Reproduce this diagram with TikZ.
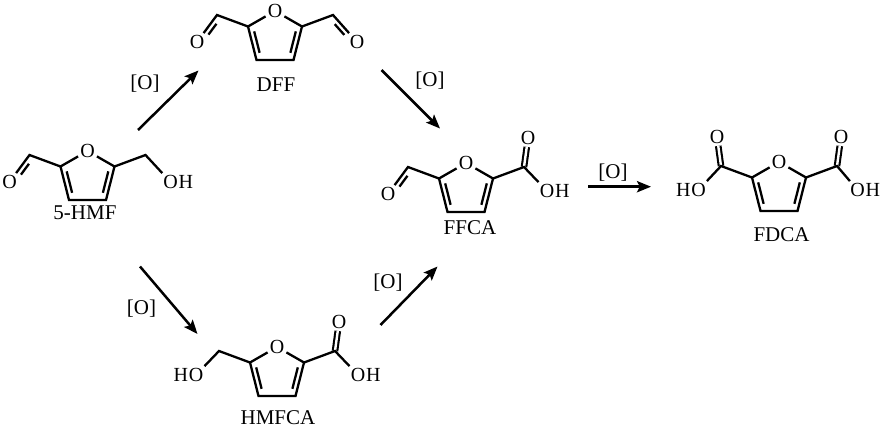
\documentclass[tikz,border=0pt]{standalone}
\usepackage{fontspec}
\setmainfont{Liberation Serif}
\usetikzlibrary{calc,arrows.meta}

\tikzset{
  bond/.style={line width=1.15pt, line cap=butt, line join=miter},
  cobond/.style={line width=1.05pt, double, double distance=1.2pt},
  atom/.style={inner sep=0.9pt, font=\fontsize{10}{12}\selectfont},
  hatom/.style={inner sep=0pt, font=\fontsize{10}{12}\selectfont},
  molname/.style={inner sep=0pt, font=\fontsize{10.5}{12}\selectfont},
  oxlabel/.style={inner sep=0pt, font=\fontsize{10.5}{12}\selectfont},
  rxn/.style={line width=1.25pt, -{Stealth[length=7pt,width=5.6pt,inset=1.4pt]}},
}

\newcommand{\furanring}[3]{%
  \begin{scope}[shift={(#2,#3)}]
    \node[atom] (#1O) at (0,0) {O};
    \coordinate (#1c2) at (-27,15.5);
    \coordinate (#1c3) at (-18.5,49);
    \coordinate (#1c4) at (18.5,49);
    \coordinate (#1c5) at (27,15.5);
  \end{scope}
  \draw[bond] (#1O) -- (#1c2) -- (#1c3) -- (#1c4) -- (#1c5) -- (#1O);
  \draw[bond] ($(#1c2)!0.18!(#1c3)!2.4pt!90:(#1c3)$) -- ($(#1c3)!0.18!(#1c2)!2.4pt!-90:(#1c2)$);
  \draw[bond] ($(#1c4)!0.18!(#1c5)!2.4pt!90:(#1c5)$) -- ($(#1c5)!0.18!(#1c4)!2.4pt!-90:(#1c4)$);
}

\begin{document}
\begin{tikzpicture}[x=0.5pt, y=-0.5pt]
\useasboundingbox (0,0) rectangle (881,428);

% ---------- 5-HMF ----------
\furanring{h}{87.5}{151}
\coordinate (hald) at (29.5,155);
\node[atom] (haldO) at (9.5,182) {O};
\draw[bond] (hc2) -- (hald) -- (haldO);
\draw[bond] ($(hald)!0.22!(haldO)!2.4pt!90:(haldO)$) -- ($(haldO)!0.38!(hald)!2.4pt!-90:(hald)$);
\coordinate (hch) at (145.5,155);
\node[atom] (hohO) at (170.5,182) {O};
\node[hatom, anchor=base west] (hohH) at ([xshift=-0.9pt]hohO.base east) {H};
\draw[bond] (hc5) -- (hch) -- (hohO);
\node[molname] (hname) at (85,213) {5-HMF};

% ---------- DFF ----------
\furanring{d}{275}{11}
\coordinate (dald1) at (217,15);
\node[atom] (dald1O) at (197,42) {O};
\draw[bond] (dc2) -- (dald1) -- (dald1O);
\draw[bond] ($(dald1)!0.22!(dald1O)!2.4pt!90:(dald1O)$) -- ($(dald1O)!0.38!(dald1)!2.4pt!-90:(dald1)$);
\coordinate (dald2) at (333,15);
\node[atom] (dald2O) at (357,42) {O};
\draw[bond] (dc5) -- (dald2) -- (dald2O);
\draw[bond] ($(dald2)!0.22!(dald2O)!2.4pt!-90:(dald2O)$) -- ($(dald2O)!0.38!(dald2)!2.4pt!90:(dald2)$);
\node[molname] (dname) at (276,85) {DFF};

% ---------- FFCA ----------
\furanring{f}{466}{163}
\coordinate (fald) at (408,167);
\node[atom] (faldO) at (388,194) {O};
\draw[bond] (fc2) -- (fald) -- (faldO);
\draw[bond] ($(fald)!0.22!(faldO)!2.4pt!90:(faldO)$) -- ($(faldO)!0.38!(fald)!2.4pt!-90:(fald)$);
\coordinate (fco) at (524,167);
\node[atom] (fcoO) at (528,138) {O};
\node[atom] (fohO) at (547,191) {O};
\node[hatom, anchor=base west] (fohH) at ([xshift=-0.9pt]fohO.base east) {H};
\draw[cobond] (fco) -- (fcoO);
\draw[bond] (fc5) -- (fco) -- (fohO);
\node[molname] (fname) at (470,228) {FFCA};

% ---------- FDCA ----------
\furanring{a}{779}{162}
\coordinate (aco1) at (721,166);
\node[atom] (aco1O) at (717,137) {O};
\node[atom] (aoh1O) at (698.5,190) {O};
\node[hatom, anchor=base east] (aoh1H) at ([xshift=0.9pt]aoh1O.base west) {H};
\draw[cobond] (aco1) -- (aco1O);
\draw[bond] (ac2) -- (aco1) -- (aoh1O);
\coordinate (aco2) at (837,166);
\node[atom] (aco2O) at (841,137) {O};
\node[atom] (aoh2O) at (857.5,190) {O};
\node[hatom, anchor=base west] (aoh2H) at ([xshift=-0.9pt]aoh2O.base east) {H};
\draw[cobond] (aco2) -- (aco2O);
\draw[bond] (ac5) -- (aco2) -- (aoh2O);
\node[molname] (aname) at (781.5,235) {FDCA};

% ---------- HMFCA ----------
\furanring{m}{277}{347}
\coordinate (mch) at (219,351);
\node[atom] (mhoO) at (196,375) {O};
\node[hatom, anchor=base east] (mhoH) at ([xshift=0.9pt]mhoO.base west) {H};
\draw[bond] (mc2) -- (mch) -- (mhoO);
\coordinate (mco) at (335,351);
\node[atom] (mcoO) at (339,322) {O};
\node[atom] (mohO) at (358,375) {O};
\node[hatom, anchor=base west] (mohH) at ([xshift=-0.9pt]mohO.base east) {H};
\draw[cobond] (mco) -- (mcoO);
\draw[bond] (mc5) -- (mco) -- (mohO);
\node[molname] (mname) at (278,418) {HMFCA};

% ---------- reaction arrows ----------
\coordinate (r1s) at (138,130);   \coordinate (r1e) at (198.5,70.5);
\coordinate (r2s) at (381.5,70);  \coordinate (r2e) at (440,128.5);
\coordinate (r3s) at (140,266.5); \coordinate (r3e) at (197.5,334);
\coordinate (r4s) at (380.5,325); \coordinate (r4e) at (437.5,266.5);
\coordinate (r5s) at (588,186.7); \coordinate (r5e) at (651,186.7);
\draw[rxn] (r1s) -- (r1e);
\draw[rxn] (r2s) -- (r2e);
\draw[rxn] (r3s) -- (r3e);
\draw[rxn] (r4s) -- (r4e);
\draw[rxn] (r5s) -- (r5e);
\node[oxlabel] (o1) at (145,84) {[O]};
\node[oxlabel] (o2) at (430,81) {[O]};
\node[oxlabel] (o3) at (141.5,309) {[O]};
\node[oxlabel] (o4) at (388,282.5) {[O]};
\node[oxlabel] (o5) at (613,172.5) {[O]};
\end{tikzpicture}
\end{document}
